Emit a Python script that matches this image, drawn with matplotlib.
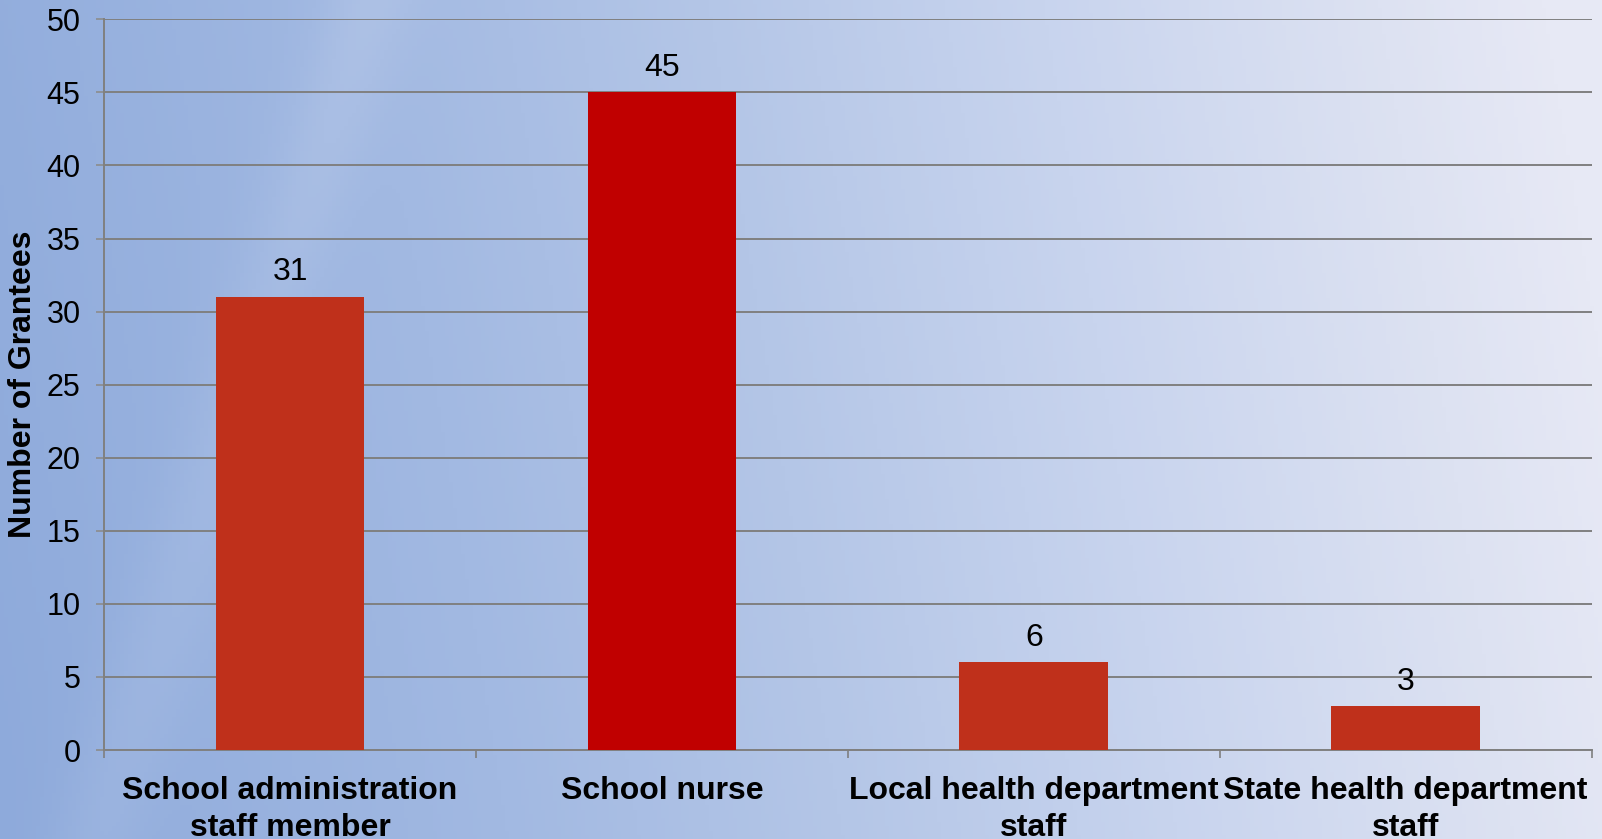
import matplotlib.pyplot as plt
import numpy as np
from matplotlib.colors import LinearSegmentedColormap

# --- Data ---
categories = ["School administration\nstaff member", "School nurse",
              "Local health department\nstaff", "State health department\nstaff"]
grantees = [31, 45, 6, 3]
bar_colors = ["#BF301B", "#C00000", "#BF301B", "#BF301B"]
y_ticks = [0, 5, 10, 15, 20, 25, 30, 35, 40, 45, 50]

plt.rcParams["font.family"] = ["Liberation Sans", "DejaVu Sans"]

fig = plt.figure(figsize=(16.02, 8.39), dpi=100)

# --- Background gradient (blue on the left, pale lavender on the right) ---
bg = fig.add_axes([0, 0, 1, 1], zorder=-10)
bg_cmap = LinearSegmentedColormap.from_list(
    "bg", [(0.0, "#8eaadb"), (0.3, "#a2b9e2"), (0.5, "#b4c6e7"),
           (0.7, "#c8d4ee"), (0.9, "#dde2f2"), (1.0, "#e7e9f5")])
gx = np.linspace(0, 1, 400)
gy = np.linspace(0, 1, 200)
GX, GY = np.meshgrid(gx, gy)
grad = np.clip(GX * 0.95 + GY * 0.08, 0, 1)
# faint diagonal light streak on the left
streak = np.exp(-((GX - (0.06 + 0.17 * GY)) / 0.03) ** 2) * 0.12
bg.imshow(grad + streak, cmap=bg_cmap, aspect="auto", extent=[0, 1, 0, 1],
          origin="lower", vmin=0, vmax=1)
bg.axis("off")

# --- Main chart ---
ax = fig.add_axes([0.065, 0.106, 0.9285, 0.871])
ax.patch.set_alpha(0)

x = np.arange(len(categories))
ax.bar(x, grantees, width=0.4, color=bar_colors, zorder=3)

for xi, v in zip(x, grantees):
    ax.annotate(str(v), (xi, v), xytext=(0, 12), textcoords="offset points",
                ha="center", va="baseline", fontsize=23, color="black")

ax.set_xlim(-0.5, len(categories) - 0.5)
ax.set_ylim(0, 50)
ax.set_yticks(y_ticks)
ax.tick_params(axis="y", labelsize=22, length=6, width=1.2, color="#8c8c8c", pad=11)

# category boundaries as ticks, labels centred under bars
ax.set_xticks(np.arange(len(categories) + 1) - 0.5)
ax.set_xticklabels([])
ax.set_xticks(x, minor=True)
ax.set_xticklabels(categories, minor=True, fontsize=23, fontweight="bold", linespacing=1.3)
ax.tick_params(axis="x", which="major", length=6, width=1.2, color="#7f7f7f")
ax.tick_params(axis="x", which="minor", length=0, pad=19)

ax.grid(axis="y", color="#808080", linewidth=1.4, zorder=0)
ax.set_axisbelow(True)
for s in ["top", "right"]:
    ax.spines[s].set_visible(False)
for s in ["left", "bottom"]:
    ax.spines[s].set_color("#808080")
    ax.spines[s].set_linewidth(1.4)

ax.set_ylabel("Number of Grantees", fontsize=23, fontweight="bold", labelpad=6)

fig.savefig("out.png", dpi=100)
